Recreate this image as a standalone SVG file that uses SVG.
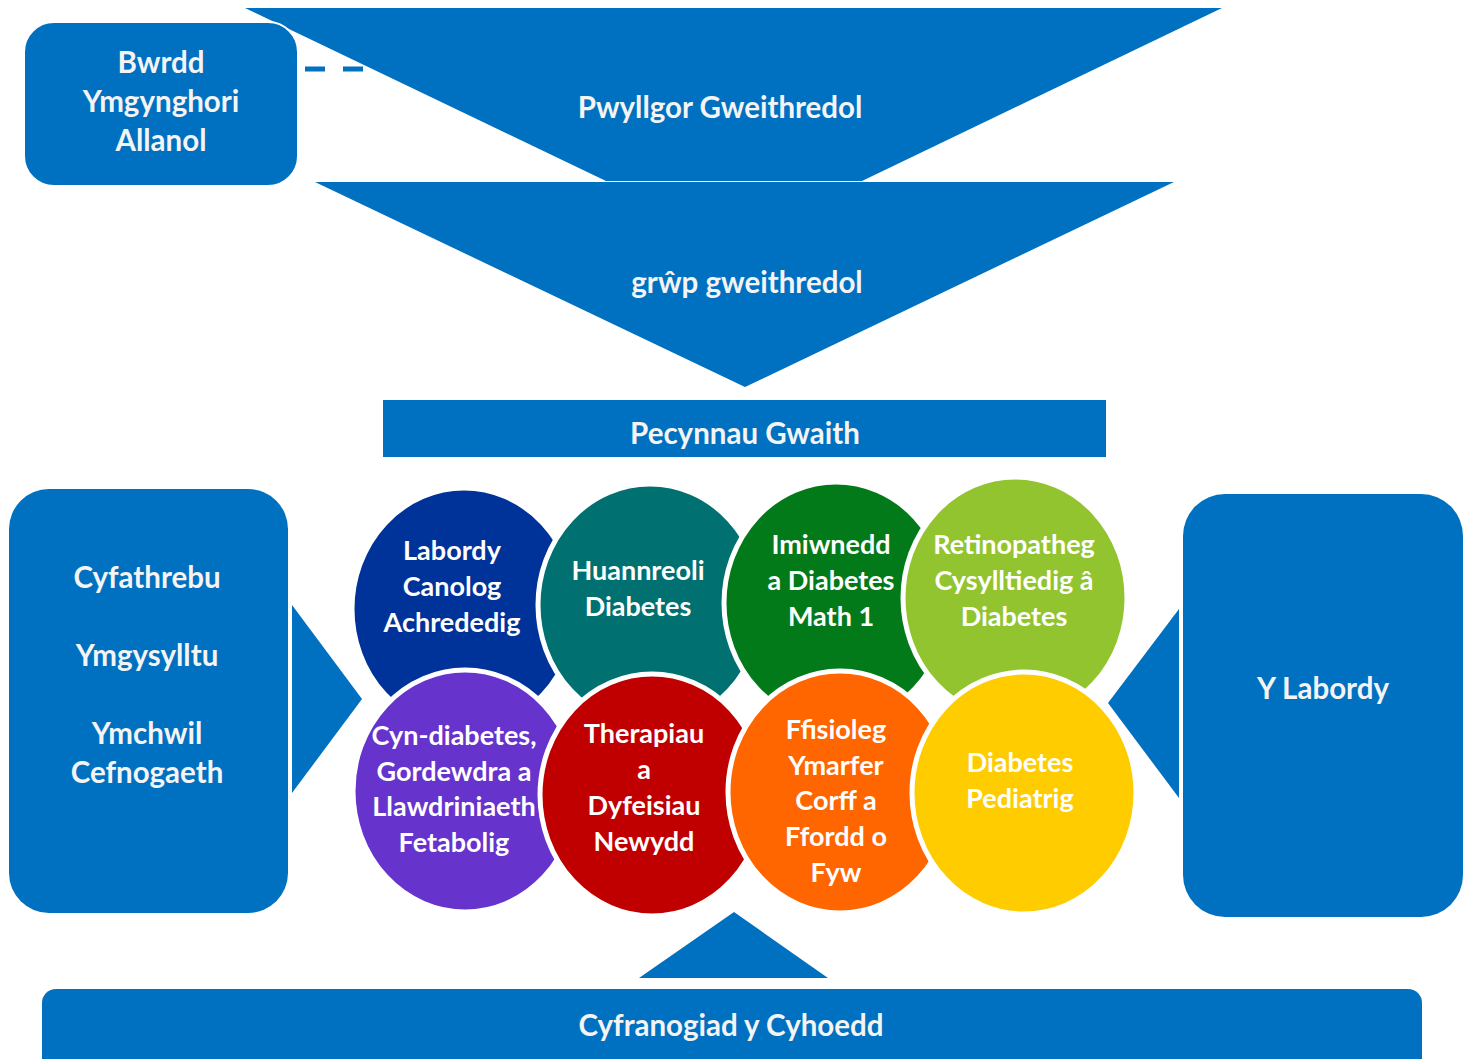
<svg xmlns="http://www.w3.org/2000/svg" width="1472" height="1059" viewBox="0 0 1472 1059">
<style>
.blue{fill:#0070C0}
.t{font-family:Lato,"Open Sans","Liberation Sans",sans-serif;font-weight:bold;font-size:29.5px;fill:#F4F4F4;text-anchor:middle}
.c{font-family:Lato,"Open Sans","Liberation Sans",sans-serif;font-weight:bold;font-size:27px;fill:#FFFFFF;text-anchor:middle}
.ring{stroke:#FFFFFF;stroke-width:5}
</style>
<rect width="1472" height="1059" fill="#FFFFFF"/>
<g id="pwyllgor">
<polygon class="blue" points="245,8 1222,8 862,181 606,181"/>
<text class="t" x="720" y="118">Pwyllgor Gweithredol</text>
</g>
<g id="grwp">
<polygon class="blue" points="315,182 1174,182 745,387"/>
<text class="t" x="747" y="293">grŵp gweithredol</text>
</g>
<g id="bwrdd">
<rect class="blue" x="24" y="22" width="274" height="164" rx="30" stroke="#FFFFFF" stroke-width="2"/>
<text class="t" x="161" y="73">Bwrdd</text>
<text class="t" x="161" y="112">Ymgynghori</text>
<text class="t" x="161" y="151">Allanol</text>
</g>
<g id="pecynnau">
<rect class="blue" x="383" y="400" width="723" height="57"/>
<text class="t" x="745" y="444">Pecynnau Gwaith</text>
</g>
<g id="chwith">
<rect class="blue" x="9" y="489" width="279" height="424" rx="40"/>
<text class="t" x="147" y="588">Cyfathrebu</text>
<text class="t" x="147" y="666">Ymgysylltu</text>
<text class="t" x="147" y="744">Ymchwil</text>
<text class="t" x="147" y="783">Cefnogaeth</text>
</g>
<g id="labordy-dde">
<rect class="blue" x="1183" y="494" width="280" height="423" rx="42"/>
<text class="t" x="1323" y="699">Y Labordy</text>
</g>
<g id="cyhoedd">
<rect class="blue" x="42" y="989" width="1380" height="100" rx="14"/>
<text class="t" x="731" y="1036">Cyfranogiad y Cyhoedd</text>
</g>
<g id="connectors">
<line x1="305" y1="69" x2="372" y2="69" stroke="#0070C0" stroke-width="5" stroke-dasharray="20,18"/>
<polygon class="blue" points="292,605 362,699 292,793"/>
<polygon class="blue" points="1179,609 1108,703 1179,798"/>
<polygon class="blue" points="639,978 734,912 828,978"/>
</g>
<g id="wp1">
<ellipse class="ring" cx="464" cy="609" rx="112" ry="121" fill="#003399"/>
<text class="c" x="452" y="560">Labordy</text>
<text class="c" x="452" y="596">Canolog</text>
<text class="c" x="452" y="632">Achrededig</text>
</g>
<g id="wp2">
<ellipse class="ring" cx="650" cy="605" rx="112" ry="121" fill="#007070"/>
<text class="c" x="638" y="580">Huannreoli</text>
<text class="c" x="638" y="616">Diabetes</text>
</g>
<g id="wp3">
<ellipse class="ring" cx="836" cy="603" rx="112" ry="121" fill="#037A1A"/>
<text class="c" x="831" y="554">Imiwnedd</text>
<text class="c" x="831" y="590">a Diabetes</text>
<text class="c" x="831" y="626">Math 1</text>
</g>
<g id="wp4">
<ellipse class="ring" cx="1015" cy="598" rx="112" ry="121" fill="#92C42F"/>
<text class="c" x="1014" y="554">Retinopatheg</text>
<text class="c" x="1014" y="590">Cysylltiedig â</text>
<text class="c" x="1014" y="626">Diabetes</text>
</g>
<g id="wp5">
<ellipse class="ring" cx="465" cy="791" rx="112" ry="121" fill="#6633CC"/>
<text class="c" x="454" y="745">Cyn-diabetes,</text>
<text class="c" x="454" y="781">Gordewdra a</text>
<text class="c" x="454" y="816">Llawdriniaeth</text>
<text class="c" x="454" y="852">Fetabolig</text>
</g>
<g id="wp6">
<ellipse class="ring" cx="652" cy="795" rx="112" ry="121" fill="#C00000"/>
<text class="c" x="644" y="743">Therapiau</text>
<text class="c" x="644" y="779">a</text>
<text class="c" x="644" y="815">Dyfeisiau</text>
<text class="c" x="644" y="851">Newydd</text>
</g>
<g id="wp7">
<ellipse class="ring" cx="840" cy="792" rx="112" ry="121" fill="#FF6600"/>
<text class="c" x="836" y="739">Ffisioleg</text>
<text class="c" x="836" y="775">Ymarfer</text>
<text class="c" x="836" y="810">Corff a</text>
<text class="c" x="836" y="846">Ffordd o</text>
<text class="c" x="836" y="882">Fyw</text>
</g>
<g id="wp8">
<ellipse class="ring" cx="1024" cy="793" rx="112" ry="121" fill="#FFCC00"/>
<text class="c" x="1020" y="772">Diabetes</text>
<text class="c" x="1020" y="808">Pediatrig</text>
</g>
</svg>
